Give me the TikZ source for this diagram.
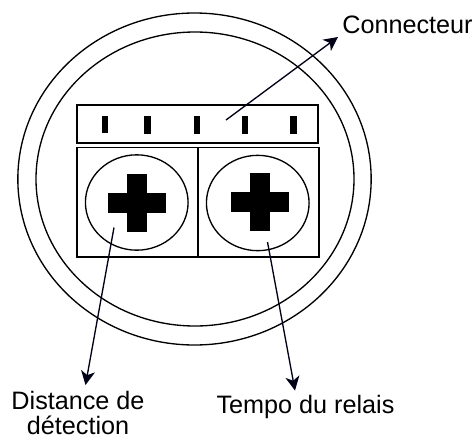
\documentclass[tikz,border=0pt]{standalone}
\usepackage{fontspec}
\setmainfont{Liberation Sans}
\usetikzlibrary{arrows.meta,positioning,shapes.geometric}

\begin{document}
\begin{tikzpicture}[x=0.75pt,y=-0.75pt,line width=1pt]
  \tikzset{RimStyle/.style={draw,ellipse,inner sep=0pt,outer sep=0pt},
           BoxStyle/.style={draw,rectangle,inner sep=0pt,outer sep=0pt},
           BlackStyle/.style={fill=black,rectangle,inner sep=0pt,outer sep=0pt},
           LabelStyle/.style={align=center,inner sep=0pt,
                              font=\fontsize{18.9pt}{18.6pt}\selectfont},
           ArrowStyle/.style={draw=black!70!blue!30!black,
                              -{Stealth[length=10.5pt,width=10.5pt,inset=3pt]}}}
  \useasboundingbox (0,0) rectangle (474,439);
  % body
  \node[RimStyle,minimum width=265pt,minimum height=249pt] (Outer) at (194.5,179) {};
  \node[RimStyle,minimum width=238.5pt,minimum height=220.5pt] (Inner) at (195,179) {};
  % connector strip
  \node[BoxStyle,minimum width=180.75pt,minimum height=28.5pt] (Strip) at (197.5,124) {};
  \foreach \name/\xpin/\ypin in {A/105/124.2,B/147.5/125,C/197/125,D/245/125,E/293.5/125}
    \node[BlackStyle,minimum width=4.8pt,minimum height=12.8pt] (Pin\name) at (\xpin,\ypin) {};
  % adjusting cells
  \node[BoxStyle,minimum width=90.75pt,minimum height=82pt] (CellL) at (137.5,202.25) {};
  \node[BoxStyle,minimum width=90.75pt,minimum height=82pt,right=0pt of CellL] (CellR) {};
  \node[RimStyle,minimum width=77pt,minimum height=71.5pt] (DialL) at (136.75,202.5) {};
  \node[RimStyle,minimum width=77pt,minimum height=71.5pt] (DialR) at (257.75,203) {};
  % crosses
  \foreach \name/\xdial/\ydial in {L/137/203.3,R/259.8/202.4} {
    \node[BlackStyle,minimum width=43.5pt,minimum height=15pt] (BarH\name) at (\xdial,\ydial) {};
    \node[BlackStyle,minimum width=15pt,minimum height=43.5pt] (BarV\name) at (\xdial,\ydial) {};
  }
  % labels
  \node[LabelStyle] (Conn) at (407.5,25) {Connecteur};
  \node[LabelStyle,anchor=north] (Dist) at (78,391) {Distance de\\détection};
  \node[LabelStyle] (Tempo) at (305.5,407) {Tempo du relais};
  % arrows
  \coordinate (ConnFrom) at (226,120);
  \coordinate (ConnTo) at (338,37);
  \coordinate (DistFrom) at (114,227.5);
  \coordinate (DistTo) at (85.5,385);
  \coordinate (TempoFrom) at (267.5,242);
  \coordinate (TempoTo) at (295,390.5);
  \draw[ArrowStyle] (ConnFrom) -- (ConnTo);
  \draw[ArrowStyle] (DistFrom) -- (DistTo);
  \draw[ArrowStyle] (TempoFrom) -- (TempoTo);
\end{tikzpicture}
\end{document}
